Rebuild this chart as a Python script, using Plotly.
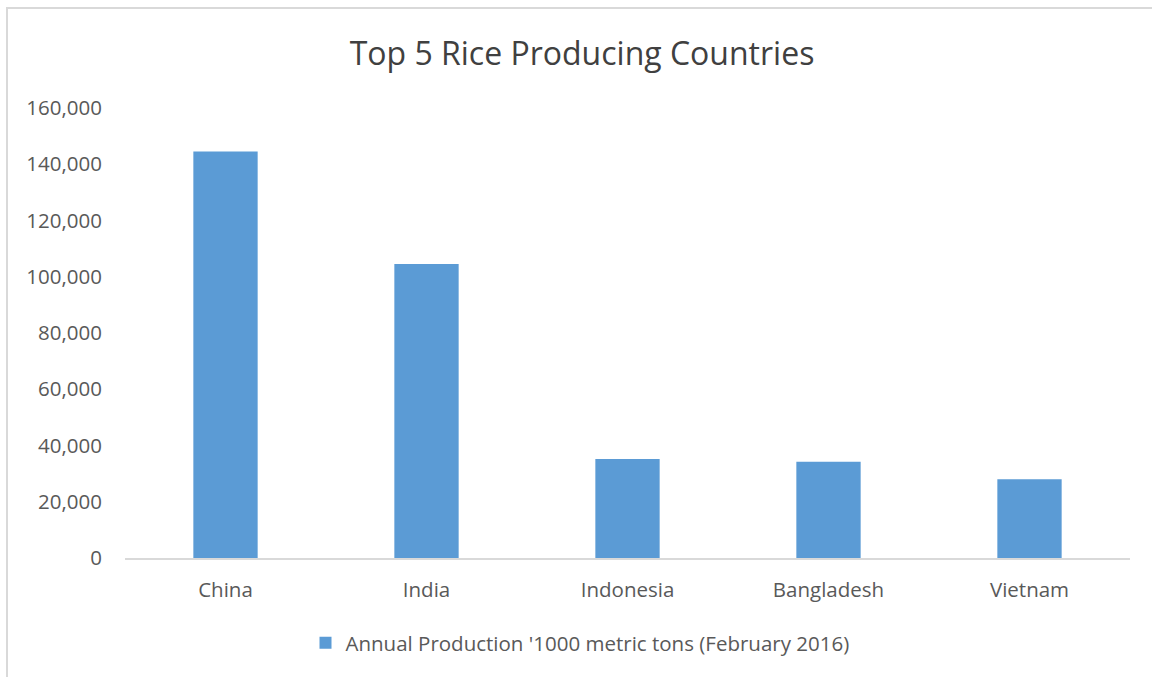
import plotly.graph_objects as go

countries = ["China", "India", "Indonesia", "Bangladesh", "Vietnam"]
production = [144500, 104500, 35200, 34200, 28000]
series_name = "Annual Production '1000 metric tons (February 2016)"
title_text = "Top 5 Rice Producing Countries"
y_ticks = [0, 20000, 40000, 60000, 80000, 100000, 120000, 140000, 160000]

W, H = 1152, 677
L, R, T, B = 125, 22, 108, 119
pw = W - L - R
ph = H - T - B

def px_x(px):
    return (px - L) / pw

def px_y(py):
    return (H - B - py) / ph

fig = go.Figure()
fig.add_trace(go.Bar(
    x=countries, y=production, name=series_name,
    marker=dict(color="#5b9bd5", line=dict(width=0)),
    showlegend=True,
))

font_family = "Open Sans, Noto Sans, sans-serif"
fig.update_layout(
    width=W, height=H,
    margin=dict(l=L, r=R, t=T, b=B),
    paper_bgcolor="white", plot_bgcolor="white",
    bargap=0.68,
    title=dict(text=title_text, x=582 / W, xref="container", xanchor="center",
               y=1 - 54 / H, yref="container", yanchor="middle",
               font=dict(family=font_family, size=32, color="#404040")),
    font=dict(family=font_family, color="#595959", size=20),
    xaxis=dict(showline=True, linecolor="#d9d9d9", linewidth=2, ticks="",
               showgrid=False, ticklabelstandoff=12,
               tickfont=dict(size=20.5, color="#595959")),
    yaxis=dict(range=[0, 160000], tickvals=y_ticks, tickformat=",",
               showgrid=False, zeroline=False, showline=False, ticks="",
               ticklabelstandoff=22,
               tickfont=dict(size=20.5, color="#595959")),
    legend=dict(orientation="h", x=(580 - L) / pw, xanchor="center",
                y=px_y(643), yanchor="middle",
                font=dict(size=20.5, color="#595959")),
    shapes=[dict(type="rect", xref="paper", yref="paper",
                 x0=px_x(7), x1=px_x(1170), y0=px_y(700), y1=px_y(8),
                 line=dict(color="#d9d9d9", width=2), layer="below")],
)

fig.write_html("out.html")
